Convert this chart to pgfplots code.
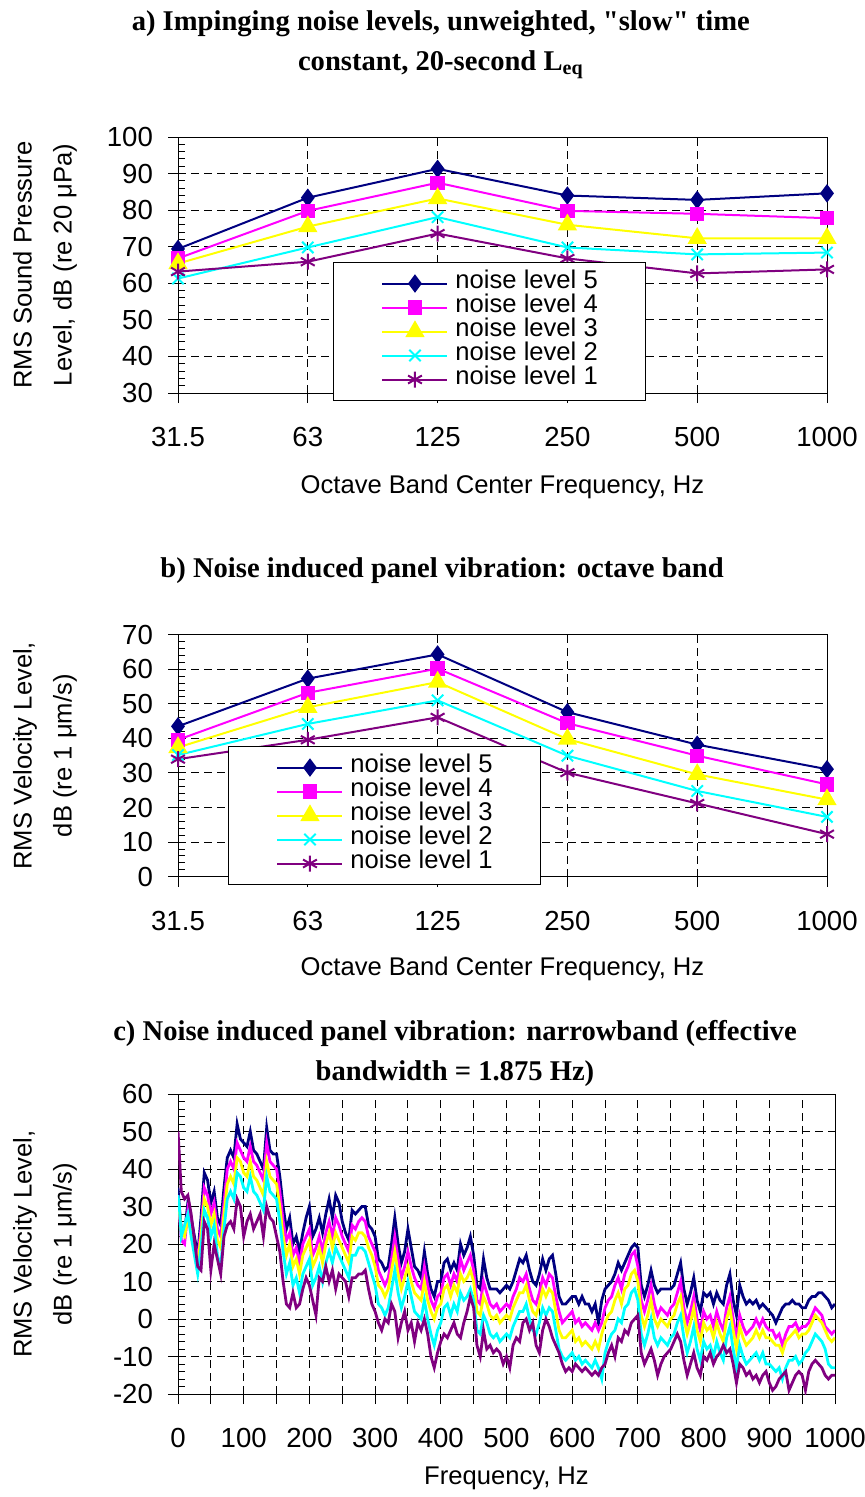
\documentclass[border=0pt]{standalone}
\usepackage{fontspec}
\setmainfont{Liberation Sans}
\newfontfamily\serifbf{Liberation Serif}
\usepackage{pgfplots}
\usepackage{pgfplotstable}
\pgfplotsset{compat=1.18}
\definecolor{cnavy}{RGB}{0,0,128}
\definecolor{cmag}{RGB}{255,0,255}
\definecolor{cyel}{RGB}{255,255,0}
\definecolor{ccyan}{RGB}{0,255,255}
\definecolor{cpur}{RGB}{128,0,128}

\pgfplotstableread{
f n5 n4 n3 n2 n1
0 35 33 32 33 50
2 30 28 29 30 44
5 24 21 23 22 34
10 23 20 22 25 32
15 31 29 27 28 33
20 27 25 23 22 28
25 22 20 18 17 21
30 17 16 15 12 14
35 27 24 22 19 13
40 39 35 32 29 26
45 37 33 30 27 24
50 31 28 25 22 13
55 34 31 28 25 20
60 27 24 21 17 16
65 25 22 19 14 12
70 35 31 28 24 22
75 43 40 36 32 25
80 45 42 38 34 26
85 43 40 36 32 24
90 52 47 43 39 32
95 48 45 42 38 30
100 47 43 39 35 22
105 46 42 38 34 26
110 50 46 42 38 28
115 45 42 38 34 24
120 44 41 37 33 26
125 42 39 35 31 28
130 40 37 33 29 22
135 51 47 42 38 30
140 45 42 38 34 27
145 44 41 37 33 26
150 44 40 36 32 22
155 38 34 30 26 18
160 30 26 22 18 10
165 24 21 17 12 4
170 27 23 20 15 3
175 20 17 14 9 7
180 22 19 16 11 3
185 18 15 12 7 4
190 23 20 17 12 8
195 27 22 19 14 11
200 30 24 21 16 9
205 22 17 14 9 5
210 24 19 16 11 1
215 27 22 19 14 11
220 23 18 15 10 10
225 28 23 20 15 14
230 32 26 23 18 10
235 27 22 19 15 13
240 33 27 23 19 8
245 31 25 21 17 12
250 26 22 19 15 11
255 23 20 17 13 10
260 21 18 15 11 6
265 29 25 22 17 11
270 28 24 21 17 11
275 29 26 23 19 12
280 30 27 23 19 12
285 30 26 22 18 13
290 25 22 19 15 8
295 24 20 17 12 4
300 22 18 14 9 2
305 16 13 9 4 -1
310 15 11 8 3 -3
315 13 9 6 1 0
320 14 11 8 3 -1
325 20 16 13 8 4
330 27 22 18 13 2
335 20 16 12 7 -5
340 15 11 8 3 -1
345 18 14 11 6 2
350 24 18 14 10 -3
355 19 14 10 6 -1
360 14 11 7 2 -6
365 13 9 6 1 -1
370 11 8 5 0 -3
375 18 14 10 5 0
380 12 9 5 0 -4
385 8 5 2 -4 -10
390 6 3 0 -7 -13
395 10 6 3 -3 -9
400 10 7 4 -1 -6
405 15 11 8 3 -4
410 16 12 9 4 -5
415 13 9 6 1 -3
420 15 12 9 4 -1
425 13 10 7 2 -4
430 20 16 12 7 -5
435 17 13 10 5 -1
440 19 15 11 6 2
445 22 17 13 8 6
450 17 13 10 5 3
455 9 5 2 -3 -7
460 8 4 1 -4 -10
465 16 10 6 1 -3
470 11 7 4 -1 -8
475 8 4 1 -4 -7
480 8 3 0 -5 -9
485 8 4 1 -4 -8
490 7 2 -1 -6 -9
495 8 3 0 -5 -12
500 9 4 1 -4 -10
505 8 3 0 -5 -13
510 10 6 3 -2 -7
515 13 8 5 0 -5
520 16 11 7 2 -6
525 15 10 7 2 -1
530 17 12 9 4 0
535 13 8 5 0 -3
540 10 5 2 -3 -1
545 9 4 1 -4 -7
550 12 7 4 -1 -9
555 16 11 8 3 -3
560 13 9 6 1 0
565 16 12 8 3 -2
570 17 11 7 2 -5
575 12 6 2 -3 -7
580 6 2 -3 -8 -9
585 4 -1 -5 -10 -12
590 4 0 -5 -11 -14
595 5 1 -4 -10 -13
600 6 2 -3 -9 -14
605 6 -1 -6 -11 -12
610 4 0 -5 -10 -13
615 6 -2 -7 -12 -14
620 4 -1 -6 -11 -13
625 4 -2 -7 -12 -14
630 2 -3 -8 -13 -15
635 4 -1 -6 -11 -14
640 -1 -3 -8 -13 -15
645 5 -1 -4 -16 -13
650 8 3 -1 -9 -12
655 9 5 1 -6 -9
660 10 6 2 -4 -7
665 12 9 5 -3 -10
670 15 11 7 0 -5
675 13 8 4 -1 -6
680 15 12 8 3 -3
685 17 14 9 4 -4
690 19 17 12 7 -1
695 20 18 13 8 0
700 19 14 10 5 1
705 9 5 1 -4 -9
710 6 2 -2 -7 -12
715 9 5 1 -4 -10
720 13 9 5 0 -8
725 9 4 0 -5 -11
730 7 1 -2 -7 -15
735 8 3 0 -5 -12
740 8 2 -1 -6 -10
745 8 1 -2 -7 -9
750 8 3 0 -5 -8
755 9 4 1 -4 -6
760 12 7 4 -1 -4
765 15 10 6 1 -6
770 8 3 0 -5 -11
775 4 -1 -4 -9 -15
780 7 2 -1 -6 -12
785 11 6 3 -2 -9
790 5 0 -3 -8 -13
795 2 -3 -6 -11 -15
800 7 2 -1 -6 -10
805 6 0 -3 -8 -11
810 7 1 -2 -7 -9
815 4 -2 -5 -10 -12
820 7 2 -1 -6 -10
825 5 -1 -4 -9 -9
830 4 -3 -6 -11 -7
835 9 3 0 -5 -9
840 12 6 3 -2 -8
845 5 0 -3 -8 -12
850 1 -5 -8 -13 -17
855 9 1 -2 -7 -12
860 6 -2 -5 -10 -13
865 4 -4 -7 -12 -15
870 5 -3 -6 -11 -14
875 4 -2 -5 -10 -16
880 5 0 -3 -9 -15
885 3 -2 -5 -11 -17
890 4 0 -3 -9 -15
895 3 -2 -5 -12 -14
900 2 -3 -5 -12 -17
905 1 -3 -6 -13 -19
910 -1 -5 -7 -14 -18
915 1 -4 -7 -13 -16
920 3 -7 -9 -16 -15
925 4 -4 -6 -13 -14
930 4 -2 -5 -11 -19
935 5 -2 -4 -11 -17
940 4 -1 -3 -10 -15
945 4 -3 -5 -12 -14
950 3 -2 -4 -11 -15
955 3 -2 -4 -9 -19
960 5 -1 -3 -8 -14
965 6 1 -1 -6 -12
970 6 3 1 -4 -11
975 7 2 0 -5 -12
980 7 1 -1 -6 -13
985 6 -2 -3 -8 -15
990 5 -3 -5 -12 -16
995 3 -4 -6 -13 -15
1000 4 -3 -5 -13 -15
}\nbdata

\pgfplotsset{
  panel/.style={
    scale only axis,
    axis line style={black, line width=0.5pt},
    tick style={black, line width=0.5pt},
    tick align=outside,
    major tick length=5pt,
    minor tick length=3.5pt,
    minor y tick style={xshift=3.5pt},
    xtick pos=bottom, ytick pos=left,
    grid=major,
    major grid style={black, line width=0.5pt, dash pattern=on 4pt off 2.5pt},
    tick label style={font=\fontsize{13.8}{16}\selectfont},
    xticklabel style={yshift=-8.5pt},
    yticklabel style={xshift=-4pt},
    /pgf/number format/assume math mode=true,
    label style={font=\fontsize{12.8}{20}\selectfont},
    xlabel style={anchor=center},
    ylabel style={anchor=center, align=center},
    title style={anchor=center, align=center, font=\serifbf\bfseries\fontsize{14.3}{20}\selectfont},
    legend cell align=left,
    legend style={font=\fontsize{12.8}{15}\selectfont, draw=black, line width=0.5pt,
      inner xsep=24pt, inner ysep=4.5pt, row sep=0pt,
      nodes={inner sep=0pt, text height=8.5pt, text depth=3.5pt},
      /tikz/every odd column/.style={column sep=3.5pt}},
    legend image code/.code={\draw[mark repeat=2,mark phase=2,##1] plot coordinates {(0pt,0pt) (16.25pt,0pt) (32.5pt,0pt)};},
  },
  s5/.style={color=cnavy, line width=1pt, mark=diamond*, mark size=3.8pt},
  s4/.style={color=cmag, line width=1pt, mark=square*, mark size=3.1pt},
  s3/.style={color=cyel, line width=1pt, mark=triangle*, mark size=4.6pt},
  s2/.style={color=ccyan, line width=1pt, mark=x, mark size=4pt},
  s1/.style={color=cpur, line width=1pt, mark=asterisk, mark size=4pt},
}

\begin{document}
\begin{tikzpicture}
\useasboundingbox (0,0) rectangle (432.5pt,-748.5pt);

% ---------- panel a ----------
\begin{axis}[panel, clip=false,
  at={(89pt,-196.5pt)}, anchor=south west,
  width=324.5pt, height=128pt,
  xmin=0, xmax=5, ymin=30, ymax=100,
  xtick={0,1,2,3,4,5}, xticklabels={31.5,63,125,250,500,1000},
  ytick={30,40,...,100}, minor y tick num=4,
  xlabel={Octave Band Center Frequency, Hz},
  xlabel style={at={(axis description cs:0.5,-0.367)}},
  ylabel={RMS Sound Pressure\\Level, dB (re 20 μPa)},
  ylabel style={at={(axis description cs:-0.205,0.5)}},
  title={a) Impinging noise levels, unweighted, "slow" time\\constant, 20-second L\textsubscript{eq}},
  title style={at={(axis description cs:0.405,1.314)}},
  legend style={at={(0.2388,0.5117)}, anchor=north west},
]
\addplot[s5] coordinates {(0,69.4) (1,83.4) (2,91.3) (3,84.0) (4,82.8) (5,84.6)};
\addplot[s4] coordinates {(0,66.8) (1,79.8) (2,87.5) (3,79.8) (4,79.0) (5,77.8)};
\addplot[s3] coordinates {(0,65.4) (1,75.5) (2,83.2) (3,76.0) (4,72.3) (5,72.3)};
\addplot[s2] coordinates {(0,61.3) (1,69.8) (2,78.1) (3,69.8) (4,67.9) (5,68.4)};
\addplot[s1] coordinates {(0,63.2) (1,65.9) (2,73.6) (3,66.8) (4,62.7) (5,63.8)};
\legend{noise level 5,noise level 4,noise level 3,noise level 2,noise level 1}
\end{axis}

% ---------- panel b ----------
\begin{axis}[panel, clip=false,
  at={(89pt,-438.35pt)}, anchor=south west,
  width=324.5pt, height=121pt,
  xmin=0, xmax=5, ymin=0, ymax=70,
  xtick={0,1,2,3,4,5}, xticklabels={31.5,63,125,250,500,1000},
  ytick={0,10,...,70}, minor y tick num=4,
  xlabel={Octave Band Center Frequency, Hz},
  xlabel style={at={(axis description cs:0.5,-0.381)}},
  ylabel={RMS Velocity Level,\\dB (re 1 μm/s)},
  ylabel style={at={(axis description cs:-0.205,0.5)}},
  title={b) Noise induced panel vibration: octave band},
  title style={at={(axis description cs:0.407,1.2136)}},
  legend style={at={(0.077,0.540)}, anchor=north west},
]
\addplot[s5] coordinates {(0,43.5) (1,57.3) (2,64.3) (3,47.6) (4,38.2) (5,31.1)};
\addplot[s4] coordinates {(0,39.6) (1,53.2) (2,60.2) (3,44.4) (4,35.0) (5,26.7)};
\addplot[s3] coordinates {(0,37.4) (1,49.0) (2,56.3) (3,39.8) (4,29.6) (5,22.3)};
\addplot[s2] coordinates {(0,35.2) (1,44.2) (2,51.0) (3,35.0) (4,24.8) (5,17.3)};
\addplot[s1] coordinates {(0,34.0) (1,39.6) (2,46.1) (3,30.1) (4,21.2) (5,12.3)};
\legend{noise level 5,noise level 4,noise level 3,noise level 2,noise level 1}
\end{axis}

% ---------- panel c ----------
\begin{axis}[panel,
  at={(89pt,-697pt)}, anchor=south west,
  width=328.5pt, height=150pt,
  xmin=0, xmax=1000, ymin=-20, ymax=60,
  xtick={0,50,...,1000},
  xticklabels={0,,100,,200,,300,,400,,500,,600,,700,,800,,900,,1000},
  ytick={-20,-10,...,60}, minor y tick num=4,
  xlabel={Frequency, Hz},
  xlabel style={at={(axis description cs:0.5,-0.28)}},
  ylabel={RMS Velocity Level,\\dB (re 1 μm/s)},
  ylabel style={at={(axis description cs:-0.2024,0.5)}},
  title={c) Noise induced panel vibration: narrowband (effective\\bandwidth = 1.875 Hz)},
  title style={at={(axis description cs:0.4216,1.095)}},
  no markers,
]
\addplot[color=cnavy, line width=1.4pt] table[x=f,y=n5] {\nbdata};
\addplot[color=cmag, line width=1.4pt] table[x=f,y=n4] {\nbdata};
\addplot[color=cyel, line width=1.4pt] table[x=f,y=n3] {\nbdata};
\addplot[color=ccyan, line width=1.4pt] table[x=f,y=n2] {\nbdata};
\addplot[color=cpur, line width=1.4pt] table[x=f,y=n1] {\nbdata};
\end{axis}
\end{tikzpicture}
\end{document}
